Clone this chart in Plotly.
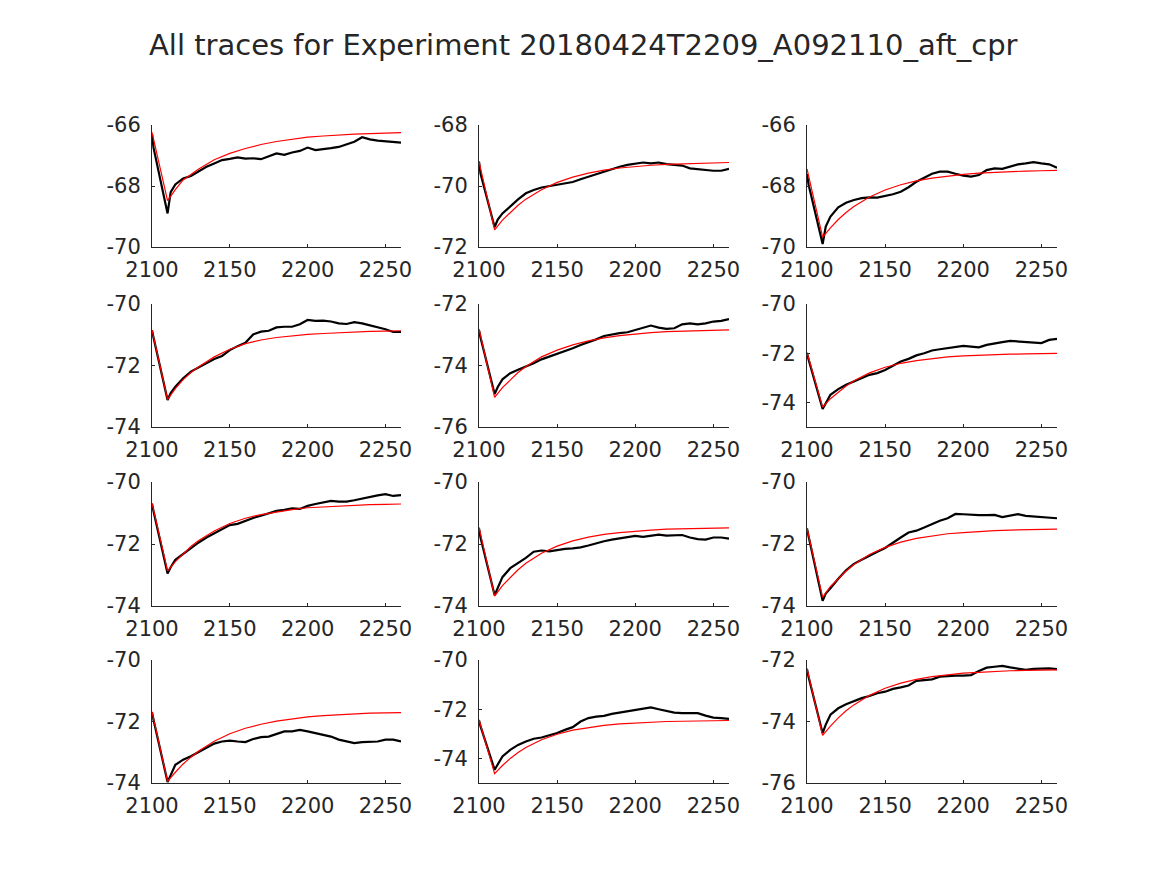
import plotly.graph_objects as go

TITLE = "All traces for Experiment 20180424T2209_A092110_aft_cpr"

T_TRACE = [2100, 2101, 2110, 2112, 2115, 2120, 2125, 2130, 2135, 2140, 2145, 2150, 2155, 2160,
           2165, 2170, 2175, 2180, 2185, 2190, 2195, 2200, 2205, 2210, 2215, 2220, 2225,
           2230, 2235, 2240, 2245, 2250, 2255, 2260]
T_FIT = [2100, 2110, 2115, 2120, 2125, 2130, 2140, 2150, 2160, 2170, 2180, 2190, 2200,
         2210, 2220, 2230, 2240, 2250, 2260]

X_TICKS = [2100, 2150, 2200, 2250]
X_LABELS = ["2100", "2150", "2200", "2250"]

trace_1 = [-66.3, -66.75, -68.9, -68.2, -67.95, -67.75, -67.67, -67.53, -67.37, -67.26, -67.15, -67.11,
           -67.06, -67.1, -67.09, -67.12, -67.02, -66.93, -66.98, -66.9, -66.85, -66.74, -66.82,
           -66.8, -66.76, -66.72, -66.63, -66.55, -66.4, -66.47, -66.51, -66.53, -66.57, -66.58]
trace_2 = [-69.2, -69.6, -71.35, -71.1, -70.9, -70.66, -70.44, -70.24, -70.13, -70.05, -70.0, -69.96,
           -69.91, -69.87, -69.78, -69.7, -69.6, -69.53, -69.45, -69.37, -69.31, -69.28, -69.23,
           -69.26, -69.23, -69.28, -69.31, -69.33, -69.42, -69.45, -69.48, -69.5, -69.5, -69.44]
trace_3 = [-67.6, -67.95, -69.9, -69.33, -69.0, -68.7, -68.55, -68.46, -68.4, -68.37, -68.38, -68.33,
           -68.27, -68.19, -68.04, -67.86, -67.72, -67.6, -67.53, -67.53, -67.6, -67.66, -67.69,
           -67.64, -67.48, -67.42, -67.44, -67.37, -67.29, -67.26, -67.22, -67.26, -67.29, -67.4]
trace_4 = [-70.85, -71.1, -73.12, -72.9, -72.69, -72.42, -72.2, -72.06, -71.91, -71.79, -71.69, -71.5,
           -71.37, -71.26, -70.99, -70.9, -70.87, -70.76, -70.74, -70.74, -70.66, -70.52, -70.55,
           -70.54, -70.57, -70.63, -70.65, -70.59, -70.63, -70.69, -70.76, -70.82, -70.91, -70.91]
trace_5 = [-72.85, -73.1, -74.93, -74.7, -74.45, -74.25, -74.14, -74.04, -73.93, -73.8, -73.71, -73.63,
           -73.55, -73.44, -73.33, -73.25, -73.15, -73.04, -72.99, -72.95, -72.92, -72.85, -72.79,
           -72.7, -72.77, -72.81, -72.79, -72.66, -72.63, -72.66, -72.63, -72.57, -72.55, -72.49]
trace_6 = [-72.0, -72.25, -74.27, -74.05, -73.69, -73.46, -73.28, -73.15, -73.01, -72.88, -72.81, -72.68,
           -72.51, -72.34, -72.23, -72.09, -72.0, -71.89, -71.84, -71.8, -71.73, -71.7, -71.73,
           -71.76, -71.66, -71.59, -71.55, -71.5, -71.53, -71.53, -71.59, -71.59, -71.46, -71.42]
trace_7 = [-70.7, -70.95, -72.95, -72.75, -72.51, -72.32, -72.11, -71.95, -71.79, -71.65, -71.51, -71.39,
           -71.35, -71.25, -71.16, -71.09, -71.0, -70.93, -70.9, -70.85, -70.87, -70.77, -70.71,
           -70.66, -70.61, -70.63, -70.63, -70.59, -70.53, -70.48, -70.43, -70.39, -70.45, -70.42]
trace_8 = [-71.5, -71.8, -73.65, -73.4, -73.07, -72.78, -72.62, -72.45, -72.25, -72.21, -72.24, -72.19,
           -72.16, -72.14, -72.11, -72.05, -71.97, -71.91, -71.86, -71.82, -71.77, -71.74, -71.77,
           -71.73, -71.7, -71.73, -71.73, -71.71, -71.79, -71.84, -71.86, -71.79, -71.79, -71.83]
trace_9 = [-71.5, -71.75, -73.83, -73.6, -73.43, -73.12, -72.85, -72.64, -72.51, -72.37, -72.25, -72.13,
           -71.95, -71.79, -71.63, -71.57, -71.47, -71.36, -71.25, -71.17, -71.03, -71.04, -71.06,
           -71.07, -71.07, -71.06, -71.13, -71.09, -71.04, -71.09, -71.11, -71.12, -71.15, -71.17]
trace_10 = [-71.7, -71.95, -73.97, -73.75, -73.41, -73.24, -73.13, -72.99, -72.86, -72.72, -72.65, -72.62,
            -72.65, -72.67, -72.57, -72.51, -72.49, -72.41, -72.32, -72.32, -72.27, -72.32, -72.38,
            -72.43, -72.49, -72.59, -72.65, -72.7, -72.67, -72.65, -72.65, -72.59, -72.59, -72.65]
trace_11 = [-72.45, -72.7, -74.46, -74.25, -73.92, -73.65, -73.45, -73.31, -73.2, -73.15, -73.07, -72.97,
            -72.84, -72.73, -72.5, -72.36, -72.3, -72.27, -72.19, -72.14, -72.07, -72.03, -71.99,
            -71.93, -72.0, -72.07, -72.14, -72.16, -72.16, -72.16, -72.26, -72.34, -72.36, -72.39]
trace_12 = [-72.3, -72.55, -74.38, -74.1, -73.78, -73.57, -73.44, -73.33, -73.24, -73.17, -73.08, -73.03,
            -72.94, -72.89, -72.83, -72.68, -72.65, -72.63, -72.54, -72.52, -72.51, -72.51, -72.49,
            -72.36, -72.25, -72.22, -72.19, -72.24, -72.29, -72.32, -72.29, -72.27, -72.27, -72.3]

fit_1 = [-66.24, -68.48, -68.12, -67.8, -67.62, -67.44, -67.14, -66.93, -66.77, -66.64, -66.54,
         -66.46, -66.4, -66.36, -66.32, -66.3, -66.28, -66.26, -66.25]
fit_2 = [-69.2, -71.44, -71.12, -70.86, -70.63, -70.43, -70.12, -69.88, -69.71, -69.58, -69.48,
         -69.41, -69.36, -69.32, -69.29, -69.27, -69.25, -69.24, -69.23]
fit_3 = [-67.44, -69.68, -69.37, -69.1, -68.87, -68.67, -68.36, -68.13, -67.96, -67.83, -67.74,
         -67.67, -67.62, -67.58, -67.55, -67.53, -67.51, -67.5, -67.49]
fit_4 = [-70.85, -73.1, -72.75, -72.46, -72.23, -72.04, -71.72, -71.47, -71.29, -71.17, -71.09,
         -71.03, -70.99, -70.96, -70.93, -70.91, -70.89, -70.88, -70.87]
fit_5 = [-72.81, -75.04, -74.72, -74.46, -74.23, -74.03, -73.72, -73.5, -73.33, -73.2, -73.1,
         -73.03, -72.97, -72.93, -72.9, -72.88, -72.86, -72.85, -72.84]
fit_6 = [-71.97, -74.19, -73.85, -73.57, -73.33, -73.12, -72.8, -72.57, -72.41, -72.3, -72.21,
         -72.15, -72.11, -72.08, -72.05, -72.04, -72.03, -72.02, -72.01]
fit_7 = [-70.68, -72.87, -72.57, -72.31, -72.08, -71.89, -71.58, -71.34, -71.17, -71.05, -70.96,
         -70.89, -70.83, -70.8, -70.77, -70.75, -70.73, -70.72, -70.71]
fit_8 = [-71.46, -73.68, -73.34, -73.07, -72.83, -72.62, -72.3, -72.07, -71.9, -71.78, -71.69,
         -71.63, -71.58, -71.55, -71.52, -71.51, -71.5, -71.49, -71.48]
fit_9 = [-71.49, -73.72, -73.37, -73.11, -72.87, -72.66, -72.34, -72.11, -71.94, -71.82, -71.74,
         -71.67, -71.63, -71.59, -71.57, -71.55, -71.54, -71.53, -71.52]
fit_10 = [-71.68, -73.95, -73.65, -73.38, -73.16, -72.96, -72.64, -72.4, -72.22, -72.09, -71.99,
          -71.91, -71.85, -71.81, -71.78, -71.75, -71.73, -71.72, -71.71]
fit_11 = [-72.43, -74.62, -74.29, -74.0, -73.76, -73.56, -73.24, -73.02, -72.85, -72.74, -72.66,
          -72.6, -72.56, -72.53, -72.5, -72.49, -72.48, -72.47, -72.46]
fit_12 = [-72.27, -74.45, -74.15, -73.88, -73.65, -73.46, -73.15, -72.92, -72.75, -72.63, -72.54,
          -72.48, -72.43, -72.4, -72.37, -72.35, -72.34, -72.33, -72.32]

TRACES = [trace_1, trace_2, trace_3, trace_4, trace_5, trace_6,
          trace_7, trace_8, trace_9, trace_10, trace_11, trace_12]
FITS = [fit_1, fit_2, fit_3, fit_4, fit_5, fit_6,
        fit_7, fit_8, fit_9, fit_10, fit_11, fit_12]

Y_RANGES = [(-70, -66), (-72, -68), (-70, -66),
            (-74, -70), (-76, -72), (-75, -70),
            (-74, -70), (-74, -70), (-74, -70),
            (-74, -70), (-75, -70), (-76, -72)]
Y_TICKS = [[-70, -68, -66], [-72, -70, -68], [-70, -68, -66],
           [-74, -72, -70], [-76, -74, -72], [-74, -72, -70],
           [-74, -72, -70], [-74, -72, -70], [-74, -72, -70],
           [-74, -72, -70], [-74, -72, -70], [-76, -74, -72]]

W, H = 1167, 875
COLS_PX = [(152, 401), (479, 729), (807, 1057)]
ROWS_PX = [(125, 247), (304, 427), (482, 606), (660, 783)]

INK = "#262626"
FONT = "DejaVu Sans"

fig = go.Figure()
layout = dict(
    width=W, height=H, autosize=False,
    margin=dict(l=0, r=0, t=0, b=0, pad=0, autoexpand=False),
    paper_bgcolor="white", plot_bgcolor="white",
    showlegend=False,
)

for i in range(12):
    r, c = divmod(i, 3)
    n = i + 1
    xa = "x" if n == 1 else f"x{n}"
    ya = "y" if n == 1 else f"y{n}"
    fig.add_trace(go.Scatter(x=T_TRACE, y=TRACES[i], mode="lines",
                             line=dict(color="black", width=2.2),
                             xaxis=xa, yaxis=ya, hoverinfo="skip"))
    fig.add_trace(go.Scatter(x=T_FIT, y=FITS[i], mode="lines",
                             line=dict(color="#ff0000", width=1.2),
                             xaxis=xa, yaxis=ya, hoverinfo="skip"))
    x0, x1 = COLS_PX[c]
    t0, t1 = ROWS_PX[r]
    axis_common = dict(
        showline=True, linecolor=INK, linewidth=1,
        ticks="inside", ticklen=3, tickcolor=INK, tickwidth=1,
        showgrid=False, zeroline=False, mirror=False, automargin=False,
        tickfont=dict(family=FONT, size=21, color=INK),
        fixedrange=True,
    )
    layout["xaxis" if n == 1 else f"xaxis{n}"] = dict(
        axis_common,
        domain=[x0 / W, x1 / W], anchor=ya,
        range=[2100, 2260], tickvals=X_TICKS, ticktext=X_LABELS,
        ticklabelstandoff=4,
    )
    layout["yaxis" if n == 1 else f"yaxis{n}"] = dict(
        axis_common,
        domain=[1 - t1 / H, 1 - t0 / H], anchor=xa,
        range=list(Y_RANGES[i]), tickvals=Y_TICKS[i],
        ticktext=[f"-{abs(v)}" for v in Y_TICKS[i]],
        ticklabelstandoff=6,
    )

layout["annotations"] = [dict(
    text=TITLE, x=0.5, y=1 - 45 / H, xref="paper", yref="paper",
    xanchor="center", yanchor="middle", showarrow=False,
    font=dict(family=FONT, size=29, color=INK),
)]

fig.update_layout(**layout)
fig.write_html("out.html")
